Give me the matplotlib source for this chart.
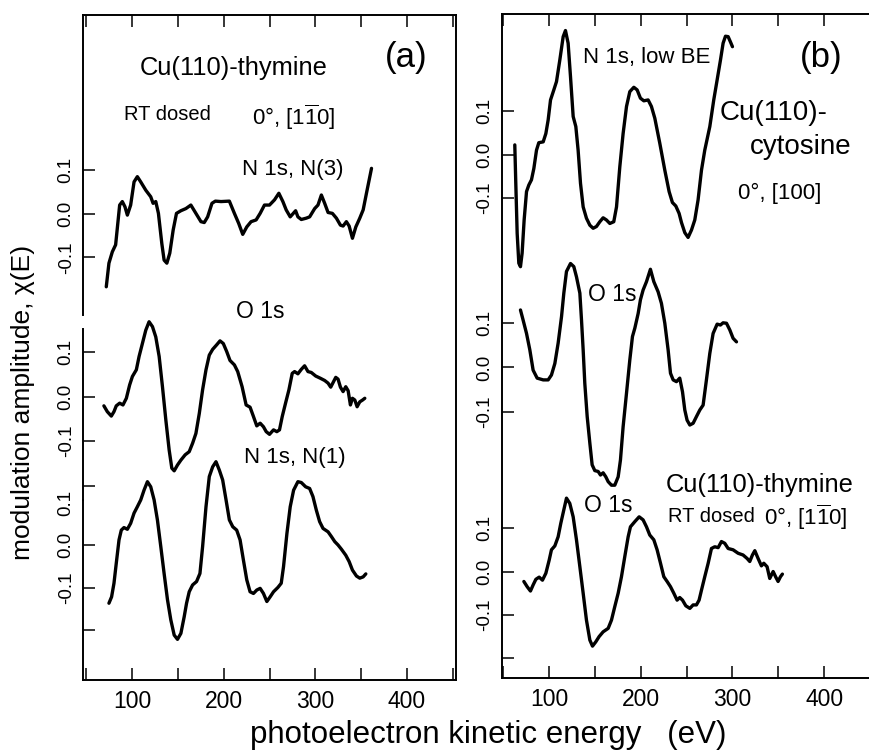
import matplotlib
matplotlib.use("Agg")
import matplotlib.pyplot as plt
from matplotlib.ticker import FixedLocator, NullFormatter

plt.rcParams['font.family'] = ['Liberation Sans', 'DejaVu Sans']
plt.rcParams['mathtext.fontset'] = 'custom'
plt.rcParams['mathtext.rm'] = 'Liberation Sans'
plt.rcParams['mathtext.it'] = 'Liberation Sans:italic'
plt.rcParams['mathtext.bf'] = 'Liberation Sans:bold'

# ---------------- data (kinetic energy in eV, chi(E)) ----------------
a1_E = [71.9, 74.8, 78.5, 82.1, 86.5, 89.4, 92.3, 94.9, 98.5, 102.2, 105.8, 109.5, 115.0, 120.4,
        123.0, 125.9, 128.8, 132.5, 135.0, 138.0, 141.2, 144.9, 148.5, 153.3, 158.8, 164.2, 169.7,
        175.2, 178.8, 182.5, 187.2, 190.9, 197.1, 206.2, 211.7, 216.4, 220.8, 225.2, 229.9, 235.4,
        239.8, 244.5, 250.0, 255.5, 260.2, 264.6, 268.2, 272.6, 278.5, 281.0, 284.7, 290.1, 293.8,
        299.3, 302.9, 306.6, 310.2, 313.9, 318.6, 323.0, 327.4, 330.3, 333.9, 336.9, 340.5, 344.2,
        348.5, 352.2, 355.8, 361.3]
a1_chi = [-0.167, -0.113, -0.087, -0.071, 0.020, 0.028, 0.016, -0.003, 0.020, 0.073, 0.085, 0.073,
          0.054, 0.039, 0.024, 0.028, 0.001, -0.068, -0.106, -0.113, -0.090, -0.037, 0.001, 0.007,
          0.012, 0.020, 0.001, -0.018, -0.020, -0.007, 0.024, 0.029, 0.028, 0.029, 0.001, -0.022,
          -0.047, -0.030, -0.018, -0.014, 0.001, 0.020, 0.020, 0.032, 0.047, 0.028, 0.009, -0.007,
          0.007, -0.007, -0.013, -0.010, -0.007, 0.012, 0.020, 0.043, 0.024, 0.003, 0.001, -0.010,
          -0.026, -0.028, -0.018, -0.028, -0.056, -0.030, -0.010, 0.009, 0.047, 0.104]

a2_E = [69.3, 73.0, 77.4, 80.3, 82.8, 86.5, 90.1, 93.8, 97.4, 100.4, 104.7, 107.7, 111.3, 115.0,
        118.6, 122.3, 125.9, 129.6, 133.2, 136.9, 140.5, 143.4, 146.0, 149.6, 153.3, 158.0, 162.4,
        166.1, 169.7, 173.4, 177.0, 180.7, 184.3, 188.0, 192.3, 196.0, 199.6, 203.3, 206.9, 211.7,
        215.3, 220.1, 224.5, 228.8, 232.5, 236.1, 239.8, 243.4, 246.4, 250.0, 254.4, 258.0, 260.9,
        263.9, 267.5, 271.2, 274.8, 277.4, 281.0, 284.7, 288.3, 292.0, 295.6, 300.4, 305.5, 310.2,
        313.9, 316.8, 319.3, 322.3, 324.8, 327.4, 330.3, 333.2, 335.8, 338.3, 340.5, 343.1, 345.6,
        348.5, 351.5, 354.0]
a2_chi = [-0.021, -0.034, -0.044, -0.034, -0.021, -0.015, -0.019, -0.004, 0.026, 0.045, 0.060,
          0.090, 0.119, 0.149, 0.168, 0.157, 0.134, 0.090, 0.022, -0.053, -0.120, -0.161, -0.167,
          -0.154, -0.143, -0.131, -0.124, -0.105, -0.083, -0.038, 0.015, 0.060, 0.093, 0.106,
          0.116, 0.125, 0.119, 0.101, 0.081, 0.071, 0.056, 0.022, -0.019, -0.024, -0.045, -0.066,
          -0.060, -0.068, -0.079, -0.085, -0.075, -0.079, -0.075, -0.045, -0.015, 0.015, 0.052,
          0.056, 0.051, 0.061, 0.069, 0.056, 0.054, 0.046, 0.041, 0.036, 0.030, 0.021, 0.031,
          0.043, 0.039, 0.021, 0.011, 0.022, 0.013, -0.019, -0.004, -0.008, -0.023, -0.012,
          -0.008, -0.004]

a3_E = [74.8, 77.7, 80.3, 82.8, 85.8, 88.3, 91.2, 94.9, 98.5, 102.2, 105.8, 109.5, 113.1, 116.8,
        120.4, 124.1, 127.7, 131.4, 135.0, 138.7, 142.3, 146.0, 149.6, 153.3, 156.9, 159.5, 162.4,
        166.1, 170.4, 174.1, 177.0, 180.7, 184.3, 188.0, 191.6, 195.3, 198.9, 202.6, 206.2, 209.9,
        214.2, 217.9, 221.5, 225.2, 228.8, 232.5, 236.1, 239.8, 243.4, 247.1, 250.7, 254.4, 259.1,
        262.8, 265.3, 269.0, 272.6, 276.3, 281.0, 284.7, 289.4, 293.8, 297.4, 301.1, 304.7, 308.4,
        313.9, 317.5, 321.2, 324.8, 328.5, 333.2, 336.9, 340.5, 344.9, 348.5, 352.2, 355.1]
a3_chi = [-0.137, -0.122, -0.090, -0.043, 0.012, 0.035, 0.041, 0.037, 0.051, 0.075, 0.090, 0.106,
          0.129, 0.149, 0.137, 0.106, 0.059, -0.004, -0.067, -0.129, -0.176, -0.212, -0.222,
          -0.208, -0.169, -0.137, -0.110, -0.094, -0.086, -0.067, -0.004, 0.090, 0.161, 0.184,
          0.196, 0.176, 0.153, 0.106, 0.059, 0.043, 0.035, 0.012, -0.035, -0.082, -0.110, -0.114,
          -0.106, -0.102, -0.114, -0.133, -0.122, -0.110, -0.100, -0.090, -0.051, 0.027, 0.090,
          0.129, 0.149, 0.147, 0.137, 0.133, 0.114, 0.082, 0.055, 0.039, 0.031, 0.020, 0.008,
          0.000, -0.010, -0.024, -0.039, -0.059, -0.073, -0.078, -0.075, -0.068]

b1_E = [62.5, 63.6, 65.1, 66.9, 68.7, 70.5, 72.7, 75.3, 77.8, 80.7, 83.3, 86.2, 88.7, 93.5, 96.4,
        98.9, 101.5, 105.1, 108.0, 111.6, 115.3, 117.8, 120.7, 123.3, 126.2, 129.1, 131.6, 134.2,
        137.1, 140.7, 144.4, 148.0, 151.6, 155.3, 158.9, 162.5, 166.2, 170.5, 173.5, 177.1, 180.7,
        184.4, 188.0, 192.4, 196.0, 199.6, 203.3, 208.0, 211.6, 215.3, 220.7, 226.2, 230.9, 234.5,
        238.2, 241.8, 244.4, 248.0, 251.6, 255.3, 258.9, 262.5, 266.2, 269.8, 275.3, 279.6, 283.3,
        286.9, 289.8, 292.4, 295.3, 297.8, 300.0]
b1_chi = [0.022, -0.066, -0.181, -0.249, -0.257, -0.226, -0.150, -0.085, -0.070, -0.058, -0.032,
          0.010, 0.027, 0.029, 0.048, 0.079, 0.125, 0.148, 0.167, 0.216, 0.270, 0.284, 0.255,
          0.178, 0.087, 0.064, 0.010, -0.066, -0.120, -0.146, -0.162, -0.169, -0.165, -0.154,
          -0.145, -0.150, -0.158, -0.154, -0.120, -0.028, 0.048, 0.110, 0.144, 0.154, 0.148,
          0.129, 0.123, 0.125, 0.110, 0.083, 0.026, -0.036, -0.085, -0.110, -0.118, -0.135,
          -0.156, -0.179, -0.190, -0.173, -0.150, -0.104, -0.036, 0.010, 0.064, 0.125, 0.171,
          0.216, 0.255, 0.271, 0.270, 0.258, 0.247]

b2_E = [68.7, 71.6, 75.3, 78.9, 82.5, 86.9, 93.5, 98.9, 102.5, 106.2, 109.8, 113.5, 116.0, 118.9,
        123.3, 126.9, 129.8, 133.5, 135.3, 137.1, 138.9, 141.5, 144.4, 146.9, 149.8, 153.5, 156.0,
        158.9, 161.8, 164.4, 168.0, 171.6, 175.3, 177.8, 180.7, 184.4, 188.0, 190.9, 193.5, 197.1,
        199.6, 202.5, 206.2, 210.5, 214.2, 218.9, 222.5, 226.2, 229.8, 232.4, 235.3, 238.9, 242.5,
        245.5, 248.0, 250.5, 253.5, 257.1, 260.7, 264.4, 268.0, 271.6, 275.3, 278.9, 283.3, 286.9,
        289.8, 293.5, 297.1, 300.7, 304.4]
b2_chi = [0.130, 0.107, 0.077, 0.040, -0.006, -0.024, -0.028, -0.028, -0.017, 0.009, 0.055, 0.115,
          0.168, 0.217, 0.235, 0.228, 0.205, 0.168, 0.107, 0.040, -0.036, -0.111, -0.171, -0.220,
          -0.233, -0.235, -0.243, -0.238, -0.247, -0.258, -0.266, -0.266, -0.247, -0.209, -0.134,
          -0.058, 0.017, 0.070, 0.089, 0.122, 0.153, 0.175, 0.194, 0.222, 0.194, 0.171, 0.145,
          0.100, 0.040, -0.013, -0.028, -0.032, -0.024, -0.055, -0.096, -0.119, -0.130, -0.126,
          -0.111, -0.096, -0.085, -0.028, 0.032, 0.077, 0.098, 0.096, 0.101, 0.100, 0.085, 0.066,
          0.058]

b3_E = [72.4, 76.0, 79.6, 82.5, 85.5, 89.1, 92.7, 96.4, 100.0, 102.5, 106.2, 109.8, 112.7, 116.0,
        118.9, 122.5, 126.2, 129.8, 133.5, 137.1, 140.7, 144.4, 147.3, 150.9, 154.5, 158.9, 164.4,
        168.0, 171.6, 175.3, 178.9, 182.5, 186.2, 188.7, 193.5, 198.2, 202.5, 206.2, 209.8, 214.2,
        217.8, 221.5, 225.1, 228.7, 232.4, 236.0, 239.6, 242.5, 245.5, 249.1, 253.5, 257.1, 260.7,
        263.6, 266.2, 269.8, 273.5, 277.1, 280.7, 284.4, 288.0, 291.6, 295.3, 300.7, 306.2, 311.6,
        316.0, 318.9, 321.8, 324.4, 328.0, 331.6, 334.2, 337.8, 340.7, 344.4, 347.3, 349.8, 352.4,
        354.5]
b3_chi = [-0.023, -0.035, -0.045, -0.031, -0.018, -0.013, -0.020, -0.004, 0.026, 0.050, 0.059,
          0.080, 0.111, 0.142, 0.169, 0.157, 0.126, 0.073, 0.011, -0.050, -0.112, -0.158, -0.172,
          -0.162, -0.150, -0.139, -0.131, -0.112, -0.081, -0.050, -0.012, 0.034, 0.080, 0.103,
          0.115, 0.126, 0.119, 0.103, 0.084, 0.073, 0.050, 0.019, -0.012, -0.023, -0.035, -0.050,
          -0.066, -0.060, -0.066, -0.079, -0.085, -0.077, -0.077, -0.066, -0.043, -0.012, 0.019,
          0.053, 0.057, 0.055, 0.069, 0.065, 0.053, 0.050, 0.042, 0.038, 0.030, 0.023, 0.038,
          0.048, 0.030, 0.013, 0.019, 0.011, -0.016, 0.000, -0.013, -0.023, -0.012, -0.006]

x_major = [100, 200, 300, 400]
x_minor = [50, 150, 250, 350, 450]
y_ticks = [-0.1, 0.0, 0.1]
y_ticklabels = ['-0.1', '0.0', '0.1']

# ---------------- layout ----------------
W, H = 869, 754
fig = plt.figure(figsize=(W / 100, H / 100), dpi=100)

def rect(p):
    return [p['left'] / W, 1 - p['bottom'] / H, (p['right'] - p['left']) / W,
            (p['bottom'] - p['top']) / H]

pa = dict(left=83, right=456, top=15, bottom=680, xlim=(46.5, 453.5))
pb = dict(left=501.5, right=874.5, top=14, bottom=678, xlim=(48.0, 455.0))

LW_SPINE = 1.4
TICK_LEN = 8.5
TICK_W = 1.1

def make_frame(p, left_spine):
    ax = fig.add_axes(rect(p))
    ax.set_xlim(*p['xlim'])
    ax.set_ylim(0, 1)
    ax.set_yticks([])
    ax.xaxis.set_major_locator(FixedLocator(x_major))
    ax.xaxis.set_minor_locator(FixedLocator(x_minor))
    ax.xaxis.set_minor_formatter(NullFormatter())
    ax.tick_params(axis='x', which='both', direction='in', top=True, bottom=True,
                   length=TICK_LEN, width=TICK_W, labelsize=16.5, pad=7)
    for s in ax.spines.values():
        s.set_linewidth(LW_SPINE)
    ax.spines['left'].set_visible(left_spine)
    return ax

def make_curve(p, zero_px, px_per_unit, E, chi, spine_px=None,
               major=None, major_labels=None, minor=None, minor_labels=None, minor_len=None):
    ax = fig.add_axes(rect(p))
    ax.patch.set_visible(False)
    ax.set_xlim(*p['xlim'])
    top = (zero_px - p['top']) / px_per_unit
    bot = -(p['bottom'] - zero_px) / px_per_unit
    ax.set_ylim(bot, top)
    ax.xaxis.set_visible(False)
    for s in ['top', 'right', 'bottom']:
        ax.spines[s].set_visible(False)
    if spine_px is None:
        ax.spines['left'].set_visible(False)
    else:
        lo = (zero_px - spine_px[1]) / px_per_unit
        hi = (zero_px - spine_px[0]) / px_per_unit
        ax.spines['left'].set_bounds(lo, hi)
        ax.spines['left'].set_linewidth(LW_SPINE)
    if major is None:
        major, major_labels = y_ticks, y_ticklabels
    ax.set_yticks(major)
    ax.set_yticklabels(major_labels)
    if minor is not None:
        ax.set_yticks(minor, minor=True)
        ax.set_yticklabels(minor_labels if minor_labels else [''] * len(minor), minor=True)
    ax.tick_params(axis='y', which='both', direction='in', length=TICK_LEN, width=TICK_W,
                   labelsize=13.5, pad=6, labelrotation=90)
    if minor_len is not None:
        ax.tick_params(axis='y', which='minor', length=minor_len)
    for lbl in ax.get_yticklabels() + ax.get_yticklabels(minor=True):
        lbl.set_va('center')
    ax.plot(E, chi, color='black', lw=2.4, solid_joinstyle='round', solid_capstyle='round')
    return ax

# panel (a)
make_frame(pa, left_spine=False)
make_curve(pa, 213.8, 437.0, a1_E, a1_chi, spine_px=(15, 315))
make_curve(pa, 396.5, 445.0, a2_E, a2_chi, spine_px=(329, 500), minor=[-0.2])
make_curve(pa, 545.0, 425.0, a3_E, a3_chi, spine_px=(500, 680),
           major=[-0.2, -0.1, 0.0], major_labels=['', '-0.1', '0.0'],
           minor=[0.1], minor_labels=['0.1'], minor_len=0)

# panel (b)
make_frame(pb, left_spine=True)
make_curve(pb, 154.5, 436.5, b1_E, b1_chi)
make_curve(pb, 367.5, 442.5, b2_E, b2_chi)
make_curve(pb, 571.5, 434.0, b3_E, b3_chi, minor=[-0.2])

# ---------------- texts ----------------
def txt(x, y, s, size, **kw):
    fig.text(x / W, 1 - y / H, s, fontsize=size, ha='center', va='center', **kw)

ori = r'0°, [1$\overline{\mathrm{1}}$0]'

txt(406, 58, '(a)', 25)
txt(233.5, 68, 'Cu(110)-thymine', 18.4)
txt(167.5, 115, 'RT dosed', 14.5)
txt(293.5, 117, ori, 16)
txt(293, 170, 'N 1s, N(3)', 16)
txt(260, 312, 'O 1s', 16.5)
txt(295, 457, 'N 1s, N(1)', 16)

txt(821.5, 57, '(b)', 25)
txt(647, 57, 'N 1s, low BE', 16)
txt(773.5, 113, 'Cu(110)-', 20)
txt(801, 147, 'cytosine', 20)
txt(780, 193, '0°, [100]', 16)
txt(612, 295, 'O 1s', 16.5)
txt(760, 485, 'Cu(110)-thymine', 18.4)
txt(711, 517, 'RT dosed', 14.5)
txt(806, 517, ori, 16)
txt(608, 506, 'O 1s', 16.5)

txt(488.5, 735, 'photoelectron kinetic energy   (eV)', 22.5)
txt(23, 402, r'modulation amplitude, χ(E)', 19, rotation=90)

fig.savefig('out.png', dpi=100)
